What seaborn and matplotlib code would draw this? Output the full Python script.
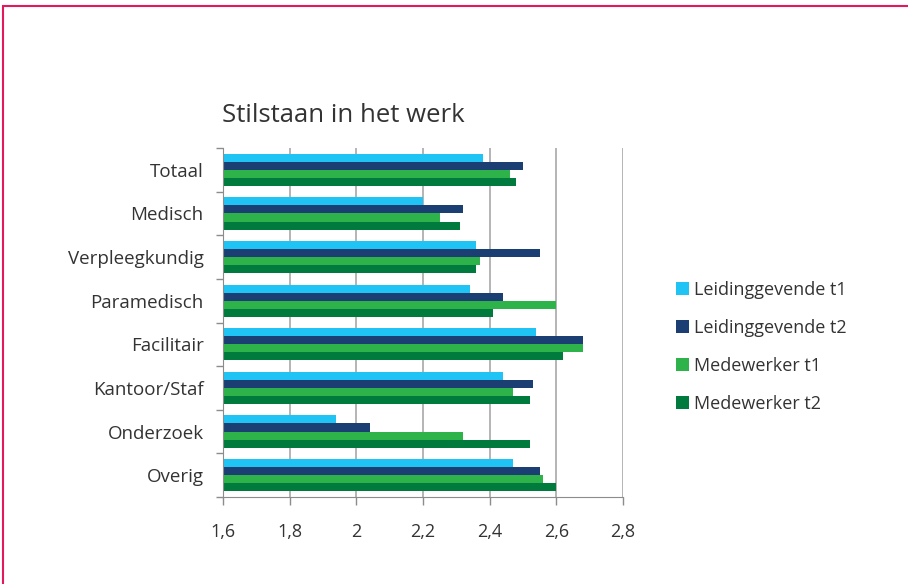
import numpy as np
import pandas as pd
import matplotlib as mpl
mpl.use("Agg")
import matplotlib.pyplot as plt
import seaborn as sns
from matplotlib.patches import Rectangle
from matplotlib.ticker import FixedLocator, FuncFormatter

# data
categories = ["Totaal", "Medisch", "Verpleegkundig", "Paramedisch",
              "Facilitair", "Kantoor/Staf", "Onderzoek", "Overig"]
series = ["Leidinggevende t1", "Leidinggevende t2", "Medewerker t1", "Medewerker t2"]
leid_t1 = [2.38, 2.20, 2.36, 2.34, 2.54, 2.44, 1.94, 2.47]
leid_t2 = [2.50, 2.32, 2.55, 2.44, 2.68, 2.53, 2.04, 2.55]
mede_t1 = [2.46, 2.25, 2.37, 2.60, 2.68, 2.47, 2.32, 2.56]
mede_t2 = [2.48, 2.31, 2.36, 2.41, 2.62, 2.52, 2.52, 2.60]
xticks = [1.6, 1.8, 2.0, 2.2, 2.4, 2.6, 2.8]

colors = ["#20c4f4", "#1b3f73", "#2db34a", "#007a3d"]

rows = []
for name, vals in zip(series, [leid_t1, leid_t2, mede_t1, mede_t2]):
    for cat, v in zip(categories, vals):
        rows.append({"categorie": cat, "serie": name, "waarde": v})
df = pd.DataFrame(rows)

sns.set_style("white")
plt.rcParams["font.family"] = ["Open Sans", "DejaVu Sans"]
txt = "#333333"

fig = plt.figure(figsize=(9.08, 5.84), dpi=100)
ax = fig.add_axes([223 / 908, 1 - 497 / 584, 400 / 908, 349 / 584])

sns.barplot(data=df, y="categorie", x="waarde", hue="serie", orient="h",
            palette=colors, order=categories, hue_order=series, saturation=1,
            width=0.74, linewidth=0, ax=ax, legend=True)

ax.set_xlim(1.6, 2.8)
ax.set_ylim(len(categories) - 0.5, -0.5)
ax.set_xlabel("")
ax.set_ylabel("")

ax.xaxis.set_major_locator(FixedLocator(xticks))
ax.xaxis.set_major_formatter(FuncFormatter(lambda v, p: ("%g" % round(v, 1)).replace(".", ",")))
ax.grid(axis="x", color="#a8a8a8", linewidth=1.2)
ax.set_axisbelow(True)

for s in ["top", "right"]:
    ax.spines[s].set_visible(False)
ax.spines["left"].set_color("#8c8c8c")
ax.spines["bottom"].set_color("#8c8c8c")
ax.tick_params(axis="x", length=6, width=1, color="#8c8c8c", pad=13,
               labelsize=13, labelcolor=txt, bottom=True)
ax.yaxis.set_minor_locator(FixedLocator(np.arange(-0.5, len(categories), 1)))
ax.tick_params(axis="y", which="major", length=0, pad=14, labelsize=13.5, labelcolor=txt)
ax.tick_params(axis="y", which="minor", length=5, width=1, color="#8c8c8c", left=True)

handles, labels = ax.get_legend_handles_labels()
ax.legend_.remove()
fig.legend(handles, labels, loc="center left", bbox_to_anchor=(660 / 908, 1 - 347 / 584),
           frameon=False, fontsize=13, labelcolor=txt, handlelength=0.72,
           handleheight=0.72, handletextpad=0.28, labelspacing=1.1)

fig.text(222 / 908, 1 - 116 / 584, "Stilstaan in het werk", fontsize=18.5,
         color=txt, ha="left", va="center")

# pink frame around the figure
fig.add_artist(Rectangle((3 / 908, -0.1), 1.2, 1 - 6 / 584 + 0.1, transform=fig.transFigure,
                         fill=False, edgecolor="#e3195c", linewidth=1.5))

fig.savefig("out.png", dpi=100)
